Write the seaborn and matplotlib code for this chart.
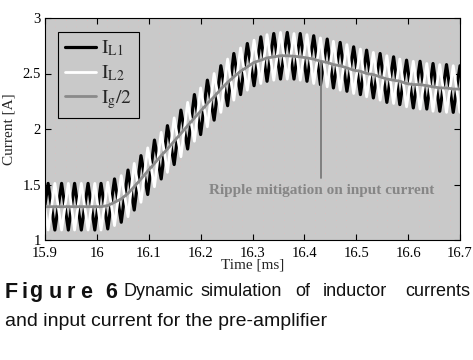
import pandas as pd
import matplotlib
matplotlib.use("Agg")
import matplotlib.pyplot as plt
import seaborn as sns

# Vertex times of the switching ripple [ms]
t_ms = [15.900, 15.906, 15.919, 15.932, 15.945, 15.957, 15.970, 15.983, 15.996, 16.008,
        16.021, 16.034, 16.047, 16.060, 16.072, 16.085, 16.098, 16.111, 16.124, 16.136,
        16.149, 16.162, 16.175, 16.188, 16.200, 16.213, 16.226, 16.239, 16.252, 16.264,
        16.277, 16.290, 16.303, 16.316, 16.328, 16.341, 16.354, 16.367, 16.380, 16.392,
        16.405, 16.418, 16.431, 16.444, 16.456, 16.469, 16.482, 16.495, 16.508, 16.520,
        16.533, 16.546, 16.559, 16.572, 16.584, 16.597, 16.610, 16.623, 16.636, 16.648,
        16.661, 16.674, 16.687, 16.700]

# Inductor current 1 [A]
i_l1 = [1.32, 1.51, 1.09, 1.51, 1.09, 1.51, 1.09, 1.51, 1.09, 1.51,
        1.10, 1.55, 1.16, 1.63, 1.27, 1.76, 1.41, 1.90, 1.55, 2.03,
        1.68, 2.17, 1.82, 2.31, 1.95, 2.44, 2.08, 2.57, 2.21, 2.68,
        2.31, 2.77, 2.39, 2.83, 2.43, 2.86, 2.45, 2.87, 2.45, 2.86,
        2.43, 2.84, 2.40, 2.81, 2.37, 2.78, 2.34, 2.74, 2.31, 2.71,
        2.28, 2.68, 2.24, 2.65, 2.22, 2.62, 2.19, 2.61, 2.18, 2.59,
        2.16, 2.58, 2.15, 2.57]

# Inductor current 2 [A]
i_l2 = [1.28, 1.09, 1.51, 1.09, 1.51, 1.09, 1.51, 1.09, 1.51, 1.09,
        1.52, 1.13, 1.58, 1.21, 1.69, 1.34, 1.83, 1.48, 1.97, 1.61,
        2.10, 1.75, 2.24, 1.89, 2.37, 2.02, 2.50, 2.15, 2.63, 2.26,
        2.73, 2.35, 2.80, 2.41, 2.85, 2.44, 2.87, 2.45, 2.86, 2.44,
        2.85, 2.41, 2.82, 2.38, 2.79, 2.35, 2.76, 2.32, 2.72, 2.29,
        2.69, 2.26, 2.66, 2.23, 2.63, 2.20, 2.61, 2.18, 2.59, 2.16,
        2.58, 2.15, 2.57, 2.15]

# Half of the input current [A]
i_g_half = [1.30, 1.30, 1.30, 1.30, 1.30, 1.30, 1.30, 1.30, 1.30, 1.30,
            1.31, 1.34, 1.37, 1.42, 1.48, 1.55, 1.62, 1.69, 1.76, 1.82,
            1.89, 1.96, 2.03, 2.10, 2.16, 2.23, 2.29, 2.36, 2.42, 2.47,
            2.52, 2.56, 2.60, 2.62, 2.64, 2.65, 2.66, 2.66, 2.655, 2.65,
            2.64, 2.63, 2.61, 2.60, 2.58, 2.57, 2.55, 2.53, 2.52, 2.50,
            2.49, 2.47, 2.45, 2.44, 2.43, 2.41, 2.40, 2.40, 2.39, 2.38,
            2.37, 2.37, 2.36, 2.36]

x_ticks = [15.9, 16.0, 16.1, 16.2, 16.3, 16.4, 16.5, 16.6, 16.7]
x_ticklabels = ["15.9", "16", "16.1", "16.2", "16.3", "16.4", "16.5", "16.6", "16.7"]
y_ticks = [1, 1.5, 2, 2.5, 3]
y_ticklabels = ["1", "1.5", "2", "2.5", "3"]

note_t = 16.433
note_top = 2.6
note_bottom = 1.56
note_text_y = 1.45

df = pd.DataFrame({"t": t_ms, "il1": i_l1, "il2": i_l2, "ig": i_g_half})

sns.set_theme(style="ticks")
plt.rcParams["font.family"] = ["Liberation Serif", "DejaVu Serif"]
plt.rcParams["mathtext.fontset"] = "stix"

fig = plt.figure(figsize=(4.73, 3.6), dpi=100)
ax = fig.add_axes([45 / 473, 120 / 360, 415 / 473, 222 / 360])
ax.set_facecolor("#c9c9c9")

sns.lineplot(data=df, x="t", y="il1", ax=ax, color="black", lw=2.3,
             sort=False, estimator=None, label=r"$\mathrm{I_{L1}}$")
sns.lineplot(data=df, x="t", y="il2", ax=ax, color="white", lw=2.0,
             sort=False, estimator=None, label=r"$\mathrm{I_{L2}}$")
sns.lineplot(data=df, x="t", y="ig", ax=ax, color="#8a8a8a", lw=2.0,
             sort=False, estimator=None, label=r"$\mathrm{I_g/2}$")

# dotted background lattice
ax.set_xticks([15.9 + 0.02 * k for k in range(41)], minor=True)
ax.grid(which="minor", axis="x", color="#e9b9b9", lw=0.6,
        linestyle=(0, (0.6, 7.4)))

ax.plot([note_t, note_t], [note_bottom, note_top], color="#7a7a7a", lw=1.3)
ax.text(note_t, note_text_y, "Ripple mitigation on input current",
        ha="center", va="center", color="#868686", fontsize=11,
        fontweight="bold")

ax.set_xlim(15.9, 16.7)
ax.set_ylim(1, 3)
ax.set_xticks(x_ticks)
ax.set_xticklabels(x_ticklabels)
ax.set_yticks(y_ticks)
ax.set_yticklabels(y_ticklabels)
ax.tick_params(which="major", direction="in", top=True, right=True,
               length=4, width=0.8, labelsize=10.5, colors="black")
ax.tick_params(axis="x", which="major", pad=5)
ax.tick_params(axis="y", which="major", pad=3)
ax.tick_params(which="minor", length=0)
for sp in ax.spines.values():
    sp.set_visible(True)
    sp.set_color("black")
    sp.set_linewidth(0.8)

ax.set_xlabel("Time [ms]", fontsize=11, labelpad=-1)
ax.set_ylabel("Current [A]", fontsize=11, labelpad=5)

leg = ax.legend(loc="upper left", bbox_to_anchor=(0.031, 0.937),
                borderaxespad=0, fontsize=14, handlelength=1.6,
                handletextpad=0.25, labelspacing=0.25, borderpad=0.35,
                fancybox=False, framealpha=1,
                facecolor="#c9c9c9", edgecolor="black")
leg.get_frame().set_linewidth(0.8)

# caption, justified first line (letter-spaced bold label)
fig_letters = ["F", "i", "g", "u", "r", "e", "6"]
fig_letters_x = [5, 21, 29, 49, 67, 80, 105]
for ch, xp in zip(fig_letters, fig_letters_x):
    fig.text(xp / 473, 1 - 292 / 360, ch, ha="left", va="center",
             fontsize=15.5, family="Liberation Sans", fontweight="bold",
             color="#111111")
cap_words = ["Dynamic", "simulation", "of", "inductor", "currents"]
cap_x = [123, 200, 295, 323, 470]
for w, xp in zip(cap_words, cap_x):
    fig.text(xp / 473, 1 - 292 / 360, w, ha="right" if w == "currents" else "left",
             va="center", fontsize=13, family="Liberation Sans", color="#111111")
fig.text(5 / 473, 1 - 321 / 360, "and input current for the pre-amplifier",
         ha="left", va="center", fontsize=14, family="Liberation Sans",
         color="#111111")

fig.savefig("out.png", dpi=100, facecolor="white")
